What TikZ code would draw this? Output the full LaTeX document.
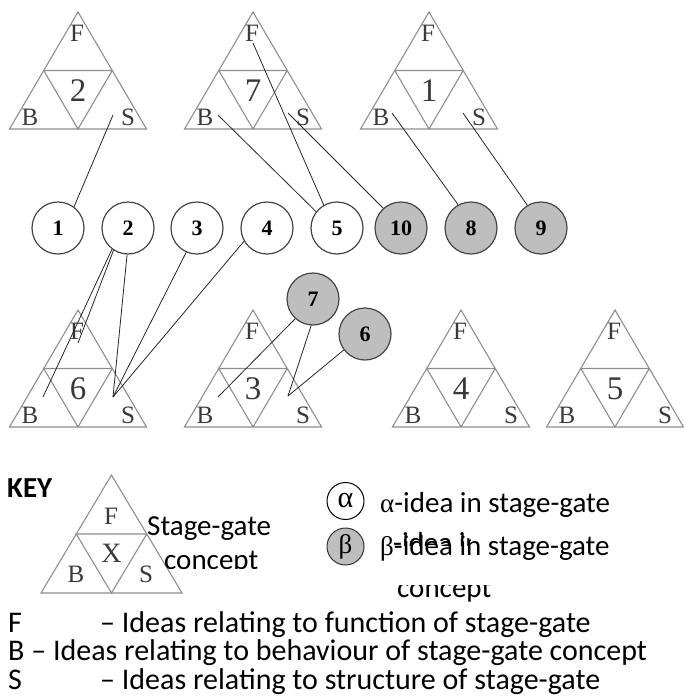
\documentclass[tikz,border=0pt]{standalone}
\usepackage{fontspec}
\setmainfont{Liberation Serif}
\newfontfamily\calibri{Carlito}
\definecolor{triGray}{HTML}{8E8E8E}
\definecolor{labGray}{HTML}{3A3A3A}
\definecolor{circGray}{HTML}{454545}
\definecolor{betaGray}{HTML}{BEBEBE}
\newcommand\stagetri[4]{%
  \draw[triline] (#2,#3) -- ++(-68.5,117) -- ++(137,0) -- cycle;
  \draw[triline] (#2-34.25,#3+58.5) -- ++(68.5,0) -- (#2,#3+117) -- cycle;
  \node[lab] (#1-F) at (#2-1,#3+21) {F};
  \node[tnum] (#1-n) at (#2,#3+79) {#4};
  \node[lab] (#1-B) at (#2-48,#3+105) {B};
  \node[lab] (#1-S) at (#2+50,#3+105) {S};
}
\begin{document}
\begin{tikzpicture}[x=1pt,y=-1pt,
  triline/.style={draw=triGray,line width=1.1pt,line join=miter},
  conn/.style={draw=black!85,line width=0.8pt},
  lab/.style={inner sep=0pt,text=labGray,font=\fontsize{25}{25}\selectfont},
  tnum/.style={inner sep=0pt,text=labGray,font=\fontsize{33}{33}\selectfont},
  idea/.style={circle,draw=circGray,line width=1.2pt,minimum size=52pt,inner sep=0pt,fill=white,font=\bfseries\fontsize{22}{22}\selectfont},
  betaidea/.style={idea,fill=betaGray},
  keytxt/.style={inner sep=0pt,anchor=base west,font=\calibri\fontsize{29}{29}\selectfont},
  bottxt/.style={inner sep=0pt,anchor=base west,font=\calibri\fontsize{30}{30}\selectfont}
]
\useasboundingbox (0,0) rectangle (684,699);

% top triangles
\stagetri{ta}{78}{12}{2}
\stagetri{tb}{253}{12}{7}
\stagetri{tc}{429}{12}{1}
% bottom triangles
\stagetri{ba}{78}{310}{6}
\stagetri{bb}{253}{310}{3}
\stagetri{bc}{461}{310}{4}
\stagetri{bd}{615}{310}{5}

% idea circles
\node[idea] (c1) at (58,228) {1};
\node[idea] (c2) at (128,228) {2};
\node[idea] (c3) at (197,228) {3};
\node[idea] (c4) at (267,228) {4};
\node[idea] (c5) at (337,228) {5};
\node[betaidea] (c10) at (401,228) {10};
\node[betaidea] (c8) at (471,228) {8};
\node[betaidea] (c9) at (541,228) {9};
\node[betaidea] (g7) at (313,299) {7};
\node[betaidea] (g6) at (365,334) {6};

% connector end points inside triangles
\coordinate (taS) at (113,115);
\coordinate (tbB) at (218,115);
\coordinate (tbF) at (253,43);
\coordinate (tbS) at (288,113);
\coordinate (tcB) at (392,113);
\coordinate (tcS) at (463,113);
\coordinate (baF) at (78,343);
\coordinate (baB) at (43,397);
\coordinate (baS) at (113,397);
\coordinate (bbB) at (218,397);
\coordinate (bbS) at (288,396);

% top connectors
\draw[conn] (taS) -- (c1.53);
\draw[conn] (tbB) -- (c5.142);
\draw[conn] (tbF) -- (c5.120);
\draw[conn] (tbS) -- (c10.132);
\draw[conn] (tcB) -- (c8.119);
\draw[conn] (tcS) -- (c9.121);
% bottom connectors
\draw[conn] (c2.237) -- (baF);
\draw[conn] (c2.233) -- (baB);
\draw[conn] (c2.268) -- (baS);
\draw[conn] (c3.246) -- (baS);
\draw[conn] (c4.210) -- (baS);
\draw[conn] (g7.228) -- (bbB);
\draw[conn] (g7.266) -- (bbS);
\draw[conn] (g6.217) -- (bbS);

% KEY
\node[inner sep=0pt,anchor=base west,font=\calibri\bfseries\fontsize{29}{29}\selectfont] (key) at (7,497) {KEY};
\draw[triline] (111.5,475) -- (41,593) -- (182,593) -- cycle;
\draw[triline] (76.25,534) -- (146.75,534) -- (111.5,593) -- cycle;
\node[lab] (kF) at (111,516) {F};
\node[inner sep=0pt,text=labGray,font=\fontsize{28}{28}\selectfont] (kX) at (111.5,553) {X};
\node[lab] (kB) at (76,574) {B};
\node[lab] (kS) at (146,574) {S};
\node[keytxt] (kt1) at (147,535) {Stage-gate};
\begin{scope}
  \clip (140,540) rectangle (300,568);
  \node[keytxt] (kt2) at (164,569.5) {concept};
\end{scope}

\node[idea,minimum size=37pt,line width=1pt,draw=black,font=\fontsize{30}{30}\selectfont] (ka) at (345.5,501) {α};
\node[betaidea,minimum size=37pt,line width=1pt,draw=black!80,font=\fontsize{27}{27}\selectfont] (kb) at (345.5,546.5) {β};
\node[keytxt] (kat) at (380,512) {{\rmfamily\fontsize{27}{27}\selectfont α}-idea in stage-gate};
\node[keytxt] (kbt) at (380,555) {{\rmfamily\fontsize{27}{27}\selectfont β}-idea in stage-gate};
\begin{scope}
  \clip (392,528) rectangle (470,545);
  \node[keytxt] (kghost) at (393,552) {-idea in};
\end{scope}
\begin{scope}
  \clip (380,585) rectangle (520,699);
  \node[keytxt] (kbt2) at (397,597) {concept};
\end{scope}

% legend lines
\node[bottxt] (lf) at (8,632) {F};
\node[bottxt] (lft) at (100,632) {– Ideas relating to function of stage-gate};
\node[bottxt] (lb) at (8,660) {B – Ideas relating to behaviour of stage-gate concept};
\node[bottxt] (ls) at (8,689) {S};
\node[bottxt] (lst) at (100,689) {– Ideas relating to structure of stage-gate};
\end{tikzpicture}
\end{document}
